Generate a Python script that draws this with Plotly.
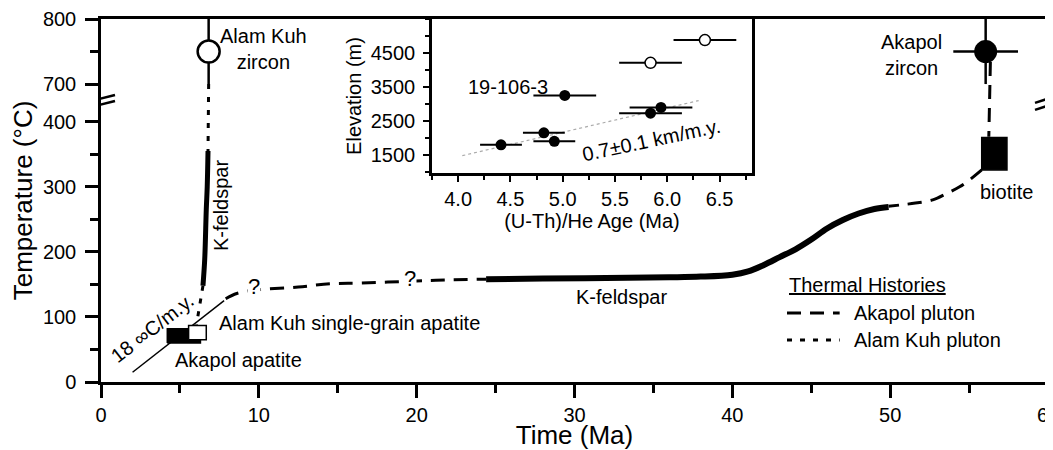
import plotly.graph_objects as go

# ---- main panel: temperature (deg C) vs time (Ma) ----
alam_zircon_t = [6.82]
alam_zircon_T = [750]
alam_zircon_err = [50]

akapol_zircon_t = [56.05]
akapol_zircon_T = [750]
akapol_zircon_xerr = [2.05]
akapol_zircon_yerr = [50]

# Alam Kuh pluton path
alam_dot1_t = [6.82, 6.78]
alam_dot1_T = [700, 355]
alam_kfs_t = [6.78, 6.73, 6.67, 6.57, 6.46]
alam_kfs_T = [355, 300, 265, 188, 148]
alam_dot2_t = [6.46, 6.36, 6.22, 6.05]
alam_dot2_T = [148, 134, 113, 88]

# Akapol pluton path
akapol_zr_bt_t = [56.35, 56.25]
akapol_zr_bt_T = [734, 377]
biotite_t = [55.8, 57.4]
biotite_T = [326, 376]
akapol_bt_t = [55.8, 55.1, 54.4, 53.6, 52.7, 51.6, 50.6, 49.9]
akapol_bt_T = [326, 312, 300, 290, 280, 275, 272, 270]
akapol_kfs_t = [24.4, 28, 32, 36, 38, 40, 41, 42, 43, 44, 45, 46, 47, 48, 49, 49.9]
akapol_kfs_T = [158, 159, 160, 161, 162, 165, 170, 180, 192, 204, 219, 236, 249, 259, 266, 269]
akapol_dash_t = [7.9, 8.6, 9.6, 10.5, 12.5, 14.5, 16.5, 19.6, 22, 24.4]
akapol_dash_T = [128, 136, 141, 143, 146, 151, 152, 155, 157, 158]
rate_t = [2.0, 7.8]
rate_T = [15, 125]

akapol_apatite_t = [4.2, 6.3]
akapol_apatite_T = [60, 82]
alam_apatite_t = [5.55, 6.67]
alam_apatite_T = [65, 87]

x_ticks = [0, 10, 20, 30, 40, 50, 60]
y_ticks = [0, 100, 200, 300, 400, 700, 800]
y_minor = [50, 150, 250, 350, 750]

# ---- inset: elevation vs (U-Th)/He age ----
inset_age = [4.41, 4.82, 4.92, 5.02, 5.84, 5.94]
inset_elev = [1800, 2150, 1900, 3250, 2730, 2900]
inset_err = [0.2, 0.2, 0.2, 0.3, 0.3, 0.3]
inset_open_age = [5.84, 6.36]
inset_open_elev = [4210, 4880]
inset_open_err = [0.3, 0.3]
fit_age = [4.04, 6.3]
fit_elev = [1480, 3100]

inset_x_ticks = [4.0, 4.5, 5.0, 5.5, 6.0, 6.5]
inset_y_ticks = [1500, 2500, 3500, 4500]

FONT = "Liberation Sans, Arial, sans-serif"
BREAK_LO, BREAK_HI, GAP = 400, 700, 58


def ty(v):
    # broken temperature axis: 400 -> 700 squeezed into GAP units
    if v <= BREAK_LO:
        return v
    if v >= BREAK_HI:
        return v - BREAK_HI + BREAK_LO + GAP
    return BREAK_LO + (v - BREAK_LO) * GAP / (BREAK_HI - BREAK_LO)


def tys(vals):
    return [ty(v) for v in vals]


def box(t, T):
    return ([t[0], t[1], t[1], t[0], t[0]], tys([T[0], T[0], T[1], T[1], T[0]]))


fig = go.Figure()

def line(t, T, width, dash="solid", shape="linear"):
    fig.add_trace(go.Scatter(x=t, y=tys(T), mode="lines", showlegend=False,
                             line=dict(color="black", width=width, dash=dash, shape=shape),
                             hoverinfo="skip"))

dash_akapol = "14px,9px"
dash_alam = "5px,8px"

line(alam_dot1_t, alam_dot1_T, 3, dash_alam)
line(alam_kfs_t, alam_kfs_T, 5, shape="spline")
line(alam_dot2_t, alam_dot2_T, 3, dash_alam)

line(akapol_zr_bt_t, akapol_zr_bt_T, 3, dash_akapol)
line(akapol_bt_t, akapol_bt_T, 3, dash_akapol, "spline")
line(akapol_kfs_t, akapol_kfs_T, 6, shape="spline")
line(akapol_dash_t, akapol_dash_T, 3, dash_akapol, "spline")
line(rate_t, rate_T, 1.5)

bx, by = box(akapol_apatite_t, akapol_apatite_T)
fig.add_trace(go.Scatter(x=bx, y=by, mode="lines", fill="toself", fillcolor="black",
                         line=dict(color="black", width=1.5), showlegend=False, hoverinfo="skip"))
bx, by = box(alam_apatite_t, alam_apatite_T)
fig.add_trace(go.Scatter(x=bx, y=by, mode="lines", fill="toself", fillcolor="white",
                         line=dict(color="black", width=1.5), showlegend=False, hoverinfo="skip"))
bx, by = box(biotite_t, biotite_T)
fig.add_trace(go.Scatter(x=bx, y=by, mode="lines", fill="toself", fillcolor="black",
                         line=dict(color="black", width=1.5), showlegend=False, hoverinfo="skip"))

fig.add_trace(go.Scatter(
    x=alam_zircon_t, y=tys(alam_zircon_T), mode="markers", showlegend=False,
    marker=dict(size=22, color="white", line=dict(color="black", width=2.5)),
    error_y=dict(type="data", array=alam_zircon_err, color="black", thickness=2.5, width=0)))
fig.add_trace(go.Scatter(
    x=akapol_zircon_t, y=tys(akapol_zircon_T), mode="markers", showlegend=False,
    marker=dict(size=23, color="black"),
    error_x=dict(type="data", array=akapol_zircon_xerr, color="black", thickness=2.5, width=0),
    error_y=dict(type="data", array=akapol_zircon_yerr, color="black", thickness=2.5, width=0)))

# inset traces
fig.add_trace(go.Scatter(x=fit_age, y=fit_elev, mode="lines", xaxis="x2", yaxis="y2",
                         line=dict(color="#aaaaaa", width=1.2, dash="dot"), showlegend=False))
fig.add_trace(go.Scatter(
    x=inset_age, y=inset_elev, mode="markers", xaxis="x2", yaxis="y2", showlegend=False,
    marker=dict(size=11, color="black"),
    error_x=dict(type="data", array=inset_err, color="black", thickness=2, width=0)))
fig.add_trace(go.Scatter(
    x=inset_open_age, y=inset_open_elev, mode="markers", xaxis="x2", yaxis="y2", showlegend=False,
    marker=dict(size=11, color="white", line=dict(color="black", width=1.5)),
    error_x=dict(type="data", array=inset_open_err, color="black", thickness=2, width=0)))

ann = []
def label(x, T, text, size=20, **kw):
    d = dict(x=x, y=ty(T), xref="x", yref="y", text=text, showarrow=False,
             font=dict(family=FONT, size=size, color="black"))
    d.update(kw)
    ann.append(d)

label(10.3, 754, "Alam Kuh<br>zircon")
label(51.35, 745, "Akapol<br>zircon")
label(57.35, 292, "biotite")
label(7.6, 272, "K-feldspar", textangle=-90)
label(33.0, 131, "K-feldspar")
label(7.33, 91, "Alam Kuh single-grain apatite", xanchor="left")
label(4.55, 34, "Akapol apatite", xanchor="left")
label(3.25, 83, "18 ∞C/m.y.", textangle=-38)
label(9.7, 147, "?", size=22, bgcolor="white", borderpad=0)
label(19.6, 159, "?", size=22, bgcolor="white", borderpad=0)

ann.append(dict(x=4.48, y=3500, xref="x2", yref="y2", text="19-106-3", showarrow=False,
                font=dict(family=FONT, size=20, color="black")))
ann.append(dict(x=5.85, y=1940, xref="x2", yref="y2", text="0.7±0.1 km/m.y.", showarrow=False,
                textangle=-12, font=dict(family=FONT, size=20, color="black")))

# hand-made legend
leg = dict(xref="paper", yref="paper", xanchor="left", yanchor="middle", showarrow=False)
ann.append(dict(leg, x=0.7244, y=0.267, text="Thermal Histories",
                font=dict(family=FONT, size=20, color="black", lineposition="under")))
ann.append(dict(leg, x=0.793, y=0.190, text="Akapol pluton",
                font=dict(family=FONT, size=20, color="black")))
ann.append(dict(leg, x=0.793, y=0.1157, text="Alam Kuh pluton",
                font=dict(family=FONT, size=20, color="black")))

shapes = [
    dict(type="line", xref="paper", yref="paper", x0=0.7244, x1=0.780, y0=0.190, y1=0.190,
         line=dict(color="black", width=3, dash=dash_akapol)),
    dict(type="line", xref="paper", yref="paper", x0=0.7244, x1=0.780, y0=0.1157, y1=0.1157,
         line=dict(color="black", width=3, dash=dash_alam)),
]
# axis break marks
mid = (BREAK_LO + BREAK_LO + GAP) / 2
for xa, offs in [(0, [(1, 8), (-5, 2)]), (60, [(0, 9), (-7, 2)])]:
    for y0, y1 in offs:
        shapes.append(dict(type="line", xref="x", yref="y", xsizemode="pixel", ysizemode="pixel",
                           xanchor=xa, yanchor=mid, x0=-13, x1=14, y0=y0, y1=y1,
                           line=dict(color="black", width=2.5)))

axis_common = dict(showgrid=False, zeroline=False, showline=True, linecolor="black",
                   mirror=True, ticks="outside", tickcolor="black", automargin=False,
                   ticklabeloverflow="allow",
                   tickfont=dict(family=FONT, size=20, color="black"))

# the page body adds an 8px margin, so the figure is 8px smaller than the window
fig.update_layout(
    width=1045, height=442,
    margin=dict(l=93, r=5, t=11, b=68),
    plot_bgcolor="white", paper_bgcolor="white",
    font=dict(family=FONT, color="black"),
    showlegend=False,
    annotations=ann,
    shapes=shapes,
    xaxis=dict(axis_common, range=[0, 60], tickvals=x_ticks, linewidth=2.5, tickwidth=2.5,
               ticklen=13, minor=dict(dtick=5, ticklen=8, tickwidth=2.5, ticks="outside"),
               title=dict(text="Time (Ma)", font=dict(family=FONT, size=26), standoff=3)),
    yaxis=dict(axis_common, range=[0, ty(800)], tickvals=tys(y_ticks),
               ticktext=[str(v) for v in y_ticks], linewidth=2.5, tickwidth=2.5, ticklen=13,
               ticklabelstandoff=5,
               minor=dict(tickvals=tys(y_minor), ticklen=8, tickwidth=2.5, ticks="outside"),
               title=dict(text="Temperature (°C)", font=dict(family=FONT, size=26), standoff=10)),
    xaxis2=dict(axis_common, domain=[0.3495, 0.6874], anchor="y2", range=[3.75, 6.81],
                tickvals=inset_x_ticks, ticktext=["%.1f" % v for v in inset_x_ticks],
                linewidth=2.5, tickwidth=2, ticklen=6,
                minor=dict(dtick=0.25, ticklen=4, tickwidth=2, ticks="outside"),
                title=dict(text="(U-Th)/He Age (Ma)", font=dict(family=FONT, size=20), standoff=2)),
    yaxis2=dict(axis_common, domain=[0.5758, 1.0], anchor="x2", range=[970, 5500],
                tickvals=inset_y_ticks, linewidth=2.5, tickwidth=2, ticklen=6,
                ticklabelstandoff=4,
                minor=dict(dtick=500, ticklen=4, tickwidth=2, ticks="outside"),
                title=dict(text="Elevation (m)", font=dict(family=FONT, size=20), standoff=4)),
)

fig.write_html("out.html")
